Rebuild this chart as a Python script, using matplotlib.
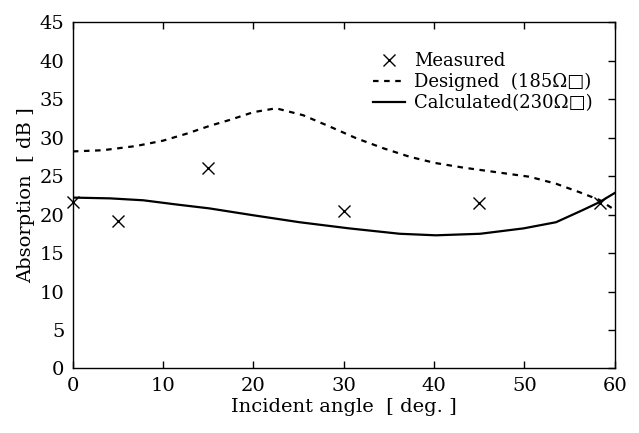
import numpy as np
import matplotlib
matplotlib.use('Agg')
import matplotlib.pyplot as plt

plt.rcParams['font.family'] = ['DejaVu Serif']
plt.rcParams['font.size'] = 14
plt.rcParams['xtick.direction'] = 'in'
plt.rcParams['ytick.direction'] = 'in'

# measured points
meas_angle = [0, 5, 15, 30, 45, 58.4]
meas_abs = [21.6, 19.2, 26.1, 20.5, 21.5, 21.5]

# designed (185 ohm/sq)
des_angle = [0, 3.3, 7.0, 10.0, 12.6, 15.1, 17.4, 20.0, 22.5, 25.5, 28.5, 31.4,
             34.4, 37.3, 40.1, 43.2, 46.9, 50.6, 53.5, 56.1, 58.3, 60]
des_abs = [28.2, 28.35, 28.9, 29.6, 30.5, 31.5, 32.3, 33.3, 33.8, 32.9, 31.4, 29.9,
           28.6, 27.5, 26.7, 26.1, 25.5, 24.9, 24.0, 22.9, 21.9, 20.6]

# calculated (230 ohm/sq)
cal_angle = [0, 4.1, 7.8, 11.5, 15.1, 20.0, 25.1, 30.6, 36.2, 40.2, 45.1, 49.9,
             53.5, 56.5, 58.3, 60]
cal_abs = [22.2, 22.1, 21.85, 21.3, 20.8, 19.9, 19.0, 18.2, 17.5, 17.3, 17.5, 18.2,
           19.0, 20.6, 21.6, 22.8]

fig = plt.figure(figsize=(6.39, 4.33), dpi=100)
ax = fig.add_axes([0.114, 0.149, 0.848, 0.80])

ax.plot(meas_angle, meas_abs, 'x', color='k', markersize=8, markeredgewidth=1.0,
        linestyle='none', label='Measured', clip_on=False)
ax.plot(des_angle, des_abs, color='k', linestyle=(0, (2.5, 2.5)), linewidth=1.6,
        label='Designed  (185\u03a9\u25a1)')
ax.plot(cal_angle, cal_abs, color='k', linestyle='-', linewidth=1.6,
        label='Calculated(230\u03a9\u25a1)')

ax.set_xlim(0, 60)
ax.set_ylim(0, 45)
ax.set_xticks(np.arange(0, 61, 10))
ax.set_yticks(np.arange(0, 46, 5))
ax.tick_params(top=True, right=True, left=False, length=5, width=1, pad=6)
for s in ax.spines.values():
    s.set_linewidth(1.0)

ax.set_xlabel('Incident angle  [ deg. ]', labelpad=2)
ax.set_ylabel('Absorption  [ dB ]', labelpad=3)

ax.legend(loc='upper right', frameon=False, handlelength=1.8, handletextpad=0.5,
          labelspacing=0.15, fontsize=13, bbox_to_anchor=(0.99, 0.96))

plt.savefig('out.png', dpi=100)
